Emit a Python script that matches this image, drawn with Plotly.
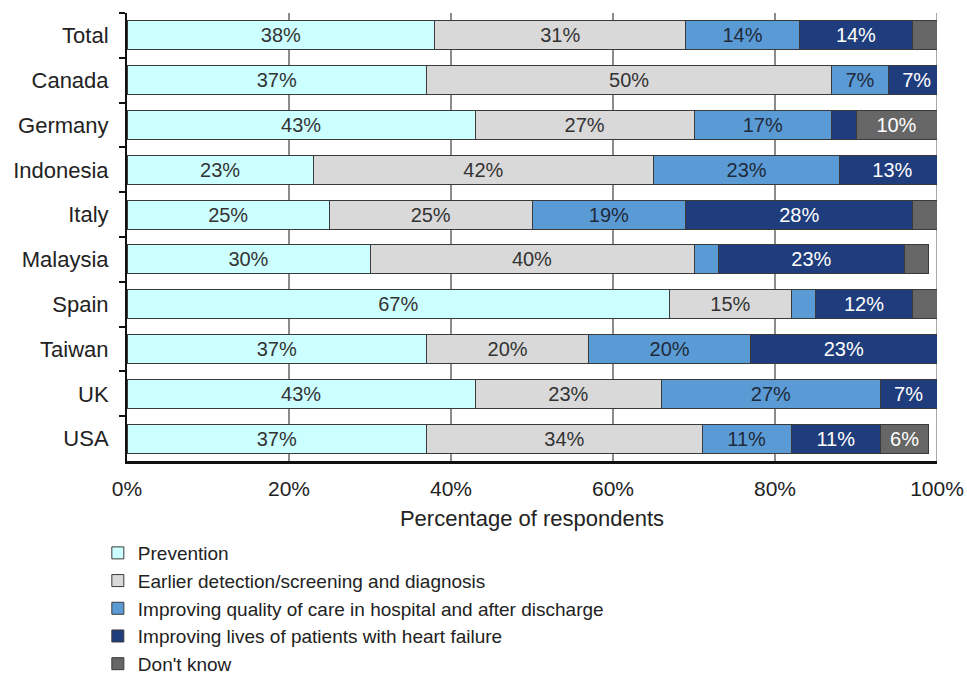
import plotly.graph_objects as go

# Survey responses by country (percentage of respondents)
countries = ["Total", "Canada", "Germany", "Indonesia", "Italy",
             "Malaysia", "Spain", "Taiwan", "UK", "USA"]

prevention = [38, 37, 43, 23, 25, 30, 67, 37, 43, 37]
earlier_detection = [31, 50, 27, 42, 25, 40, 15, 20, 23, 34]
quality_of_care = [14, 7, 17, 23, 19, 3, 3, 20, 27, 11]
patient_lives = [14, 7, 3, 13, 28, 23, 12, 23, 7, 11]
dont_know = [3, 0, 10, 0, 3, 3, 3, 0, 0, 6]

x_ticks = [0, 20, 40, 60, 80, 100]

series_names = [
    "Prevention",
    "Earlier detection/screening and diagnosis",
    "Improving quality of care in hospital and after discharge",
    "Improving lives of patients with heart failure",
    "Don't know",
]
series_values = [prevention, earlier_detection, quality_of_care, patient_lives, dont_know]
fill_colors = ["#CCFFFF", "#D9D9D9", "#5B9BD5", "#1F3D7D", "#666666"]
text_colors = ["#333333", "#333333", "#1f2a3a", "#FFFFFF", "#FFFFFF"]

FONT = "Liberation Sans, Arial, sans-serif"

fig = go.Figure()
for name, vals, fc, tc in zip(series_names, series_values, fill_colors, text_colors):
    labels = [f"{v}%" if v >= 5 else "" for v in vals]
    fig.add_trace(go.Bar(
        y=countries,
        x=vals,
        name=name,
        orientation="h",
        marker=dict(color=fc, line=dict(color="#3a3a3a", width=1)),
        text=labels,
        textposition="inside",
        insidetextanchor="middle",
        textangle=0,
        constraintext="none",
        textfont=dict(family=FONT, size=20, color=tc),
        hoverinfo="skip",
    ))

# right-hand frame line at 100%
fig.add_shape(type="line", xref="x", yref="paper", x0=100, x1=100, y0=0, y1=1,
              line=dict(color="#8c8c8c", width=1.5), layer="below")

fig.update_layout(
    barmode="stack",
    bargap=0.35,
    width=967,
    height=677,
    margin=dict(l=127, r=30, t=13, b=216, autoexpand=False),
    paper_bgcolor="white",
    plot_bgcolor="white",
    font=dict(family=FONT, size=20, color="#222222"),
    showlegend=True,
    legend=dict(
        x=-0.036, xanchor="left",
        y=-0.163, yanchor="top",
        orientation="v",
        traceorder="normal",
        font=dict(family=FONT, size=19, color="#222222"),
        tracegroupgap=0,
        itemclick=False,
        bgcolor="rgba(0,0,0,0)",
    ),
    xaxis=dict(
        range=[0, 100],
        tickvals=x_ticks,
        ticktext=[f"{t}%" for t in x_ticks],
        showgrid=True,
        gridcolor="#8c8c8c",
        gridwidth=1.5,
        zeroline=False,
        showline=True,
        linecolor="#111111",
        linewidth=2.5,
        ticks="",
        ticklabelstandoff=7,
        automargin=False,
        tickfont=dict(family=FONT, size=21, color="#222222"),
        title=dict(text="Percentage of respondents",
                   font=dict(family=FONT, size=22, color="#222222"),
                   standoff=12),
        fixedrange=True,
    ),
    yaxis=dict(
        type="category",
        categoryorder="array",
        categoryarray=countries,
        autorange="reversed",
        showline=True,
        linecolor="#111111",
        linewidth=2,
        ticks="outside",
        tickson="boundaries",
        ticklen=6,
        tickcolor="#111111",
        tickwidth=2,
        ticklabelstandoff=12,
        automargin=False,
        showgrid=False,
        tickfont=dict(family=FONT, size=22, color="#222222"),
        fixedrange=True,
    ),
)

fig.write_html("out.html")
